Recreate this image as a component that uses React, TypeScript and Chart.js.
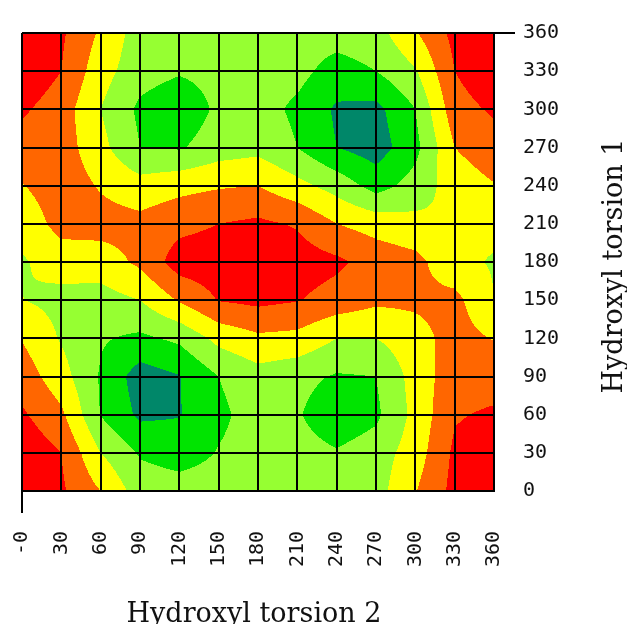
import React, { useEffect, useRef } from "react";
import { Chart, registerables } from "chart.js";

Chart.register(...registerables);

// Torsion angles (degrees) of the grid nodes
const torsion2 = [0, 30, 60, 90, 120, 150, 180, 210, 240, 270, 300, 330, 360];
const torsion1 = [0, 30, 60, 90, 120, 150, 180, 210, 240, 270, 300, 330, 360];
const xTickLabels = ["-0", "30", "60", "90", "120", "150", "180", "210", "240", "270", "300", "330", "360"];
const yTickLabels = ["0", "30", "60", "90", "120", "150", "180", "210", "240", "270", "300", "330", "360"];

// Energy level (contour units) per torsion1 row, across torsion2
const rowT1_0 = [6.2, 5.15, 4.0, 2.5, 2.4, 2.4, 2.4, 2.4, 2.4, 2.6, 3.95, 5.3, 6.2];
const rowT1_30 = [5.75, 5.0, 3.0, 1.9, 1.6, 2.05, 2.4, 2.4, 2.1, 2.5, 3.5, 5.2, 5.75];
const rowT1_60 = [5.15, 4.2, 1.95, 0.8, 0.95, 1.8, 2.4, 2.1, 1.3, 1.8, 3.3, 4.9, 5.15];
const rowT1_90 = [4.55, 3.4, 1.9, 0.5, 0.95, 2.0, 2.6, 2.3, 1.9, 2.0, 3.4, 4.6, 4.55];
const rowT1_120 = [3.95, 2.9, 2.1, 1.8, 2.2, 3.3, 3.8, 3.7, 3.0, 3.0, 3.6, 4.4, 3.95];
const rowT1_150 = [3.02, 2.7, 2.6, 3.0, 4.1, 5.05, 5.25, 5.05, 4.6, 4.2, 4.2, 4.3, 3.02];
const rowT1_180 = [2.9, 3.4, 3.5, 4.2, 5.5, 5.6, 5.8, 5.5, 5.2, 4.6, 4.3, 3.3, 2.9];
const rowT1_210 = [3.3, 4.4, 4.4, 4.3, 4.7, 5.0, 5.2, 4.9, 4.0, 3.6, 3.3, 3.0, 3.3];
const rowT1_240 = [3.95, 4.6, 3.9, 3.4, 3.7, 3.9, 4.0, 3.3, 2.6, 1.6, 2.4, 3.5, 3.95];
const rowT1_270 = [4.55, 4.5, 3.3, 2.0, 1.9, 2.5, 2.7, 2.0, 1.0, 0.5, 1.7, 4.0, 4.55];
const rowT1_300 = [5.15, 4.5, 3.0, 1.8, 1.3, 2.2, 2.4, 1.8, 0.85, 0.7, 2.0, 4.6, 5.15];
const rowT1_330 = [5.75, 5.0, 3.4, 2.4, 2.1, 2.3, 2.3, 2.3, 1.6, 2.0, 2.9, 5.0, 5.75];
const rowT1_360 = [6.2, 5.15, 3.85, 2.5, 2.4, 2.4, 2.4, 2.4, 2.4, 2.6, 3.9, 5.3, 6.2];

const energyRows = [
  rowT1_0, rowT1_30, rowT1_60, rowT1_90, rowT1_120, rowT1_150, rowT1_180,
  rowT1_210, rowT1_240, rowT1_270, rowT1_300, rowT1_330, rowT1_360,
];

// Contour levels and fill colours (lowest to highest)
const levelBounds = [1, 2, 3, 4, 5];
const levelColors: [number, number, number][] = [
  [0, 135, 105],
  [0, 228, 0],
  [150, 255, 50],
  [255, 255, 0],
  [255, 102, 0],
  [255, 0, 0],
];

function findCell(arr: number[], v: number): [number, number] {
  const n = arr.length;
  if (v <= arr[0]) return [0, 0];
  if (v >= arr[n - 1]) return [n - 2, 1];
  for (let k = 0; k < n - 1; k++) {
    if (v >= arr[k] && v <= arr[k + 1]) return [k, (v - arr[k]) / (arr[k + 1] - arr[k])];
  }
  return [n - 2, 1];
}

function sampleEnergy(t2: number, t1: number): number {
  const [i, tx] = findCell(torsion2, t2);
  const [j, ty] = findCell(torsion1, t1);
  const a = energyRows[j][i];
  const b = energyRows[j][i + 1];
  const c = energyRows[j + 1][i];
  const d = energyRows[j + 1][i + 1];
  return a * (1 - tx) * (1 - ty) + b * tx * (1 - ty) + c * (1 - tx) * ty + d * tx * ty;
}

function levelIndex(z: number): number {
  let k = 0;
  while (k < levelBounds.length && z >= levelBounds[k]) k++;
  return k;
}

const contourPlugin = {
  id: "contourFill",
  beforeDraw(chart: any) {
    const { ctx, chartArea: a, scales } = chart;
    const xs = scales.x;
    const ys = scales.y;
    const w = Math.round(a.right - a.left);
    const h = Math.round(a.bottom - a.top);
    if (w <= 0 || h <= 0) return;
    const off = document.createElement("canvas");
    off.width = w;
    off.height = h;
    const octx = off.getContext("2d")!;
    const img = octx.createImageData(w, h);
    const data = img.data;
    for (let py = 0; py < h; py++) {
      const vy = ys.getValueForPixel(a.top + py + 0.5);
      for (let px = 0; px < w; px++) {
        const vx = xs.getValueForPixel(a.left + px + 0.5);
        const col = levelColors[levelIndex(sampleEnergy(vx, vy))];
        const o = (py * w + px) * 4;
        data[o] = col[0];
        data[o + 1] = col[1];
        data[o + 2] = col[2];
        data[o + 3] = 255;
      }
    }
    octx.putImageData(img, 0, 0);
    ctx.save();
    ctx.drawImage(off, a.left, a.top);
    ctx.restore();
  },
};

const titlePlugin = {
  id: "axisTitles",
  afterDraw(chart: any) {
    const { ctx, chartArea: a } = chart;
    ctx.save();
    ctx.fillStyle = "#111";
    ctx.font = '27px "DejaVu Serif"';
    ctx.textAlign = "center";
    ctx.textBaseline = "alphabetic";
    ctx.fillText("Hydroxyl torsion 2", (a.left + a.right) / 2 - 4, 614);
    ctx.translate(614, (a.top + a.bottom) / 2 + 4);
    ctx.rotate(-Math.PI / 2);
    ctx.fillText("Hydroxyl torsion 1", 0, 0);
    ctx.restore();
  },
};

const tickFont = { family: '"DejaVu Sans Mono"', size: 20 };

export default function App() {
  const ref = useRef<HTMLCanvasElement | null>(null);
  useEffect(() => {
    if (!ref.current) return;
    const chart = new Chart(ref.current, {
      type: "scatter",
      data: { datasets: [] },
      options: {
        animation: false,
        responsive: false,
        maintainAspectRatio: false,
        layout: { padding: { left: 14, top: 25, right: 0, bottom: 0 } },
        plugins: { legend: { display: false }, tooltip: { enabled: false } },
        scales: {
          x: {
            type: "linear",
            position: "bottom",
            min: torsion2[0],
            max: torsion2[torsion2.length - 1],
            afterFit: (s: any) => {
              s.height = 133;
              s.paddingLeft = 0;
              s.paddingRight = 0;
            },
            ticks: {
              stepSize: 30,
              autoSkip: false,
              maxRotation: 90,
              minRotation: 90,
              padding: 18,
              color: "#111",
              font: tickFont,
              callback: (_v: any, idx: number) => xTickLabels[idx],
            },
            grid: {
              color: "#000",
              lineWidth: 2,
              drawTicks: true,
              tickLength: 22,
              tickWidth: 2,
              tickColor: (c: any) => (c.index === 0 ? "#000" : "rgba(0,0,0,0)"),
            },
            border: { display: true, color: "#000", width: 2 },
          },
          y: {
            type: "linear",
            position: "right",
            min: torsion1[0],
            max: torsion1[torsion1.length - 1],
            afterFit: (s: any) => {
              s.width = 133;
              s.paddingTop = 0;
              s.paddingBottom = 0;
            },
            ticks: {
              stepSize: 30,
              autoSkip: false,
              padding: 8,
              color: "#111",
              font: tickFont,
              callback: (_v: any, idx: number) => yTickLabels[idx],
            },
            grid: {
              color: "#000",
              lineWidth: 2,
              drawTicks: true,
              tickLength: 21,
              tickWidth: 2,
              tickColor: (c: any) => (c.index === yTickLabels.length - 1 ? "#000" : "rgba(0,0,0,0)"),
            },
            border: { display: true, color: "#000", width: 2 },
          },
        },
      },
      plugins: [contourPlugin, titlePlugin],
    });
    return () => chart.destroy();
  }, []);
  return (
    <div style={{ width: 619, height: 616 }}>
      <canvas ref={ref} width={619} height={616} style={{ display: "block" }} />
    </div>
  );
}
